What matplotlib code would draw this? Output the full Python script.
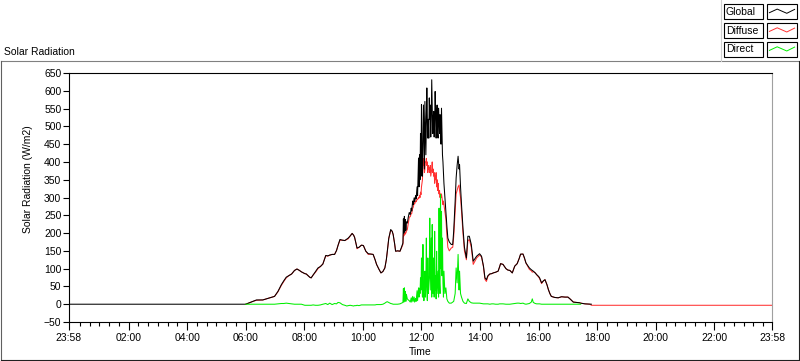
import numpy as np
import matplotlib
matplotlib.use("Agg")
import matplotlib.pyplot as plt
from matplotlib.patches import Rectangle
from matplotlib.lines import Line2D

plt.rcParams["font.family"] = ["Liberation Sans", "DejaVu Sans"]
plt.rcParams["font.size"] = 7.5

N = None

# time of day (HH:MM), readings in W/m2
times = [
    "00:00", "06:00", "06:15", "06:22", "06:35", "06:49", "06:59", "07:06", "07:13", "07:18",
    "07:23", "07:28", "07:34", "07:40", "07:45", "07:50", "07:54", "08:01", "08:04", "08:11",
    "08:14", "08:18", "08:23", "08:28", "08:33", "08:38", "08:44", "08:48", "08:52", "08:57",
    "09:02", "09:06", "09:09", "09:13", "09:18", "09:23", "09:27", "09:30", "09:34", "09:38",
    "09:41", "09:43", "09:46", "09:48", "09:52", "09:57", "10:01", "10:06", "10:11", "10:16",
    "10:21", "10:25", "10:28", "10:33", "10:37", "10:41", "10:45", "10:48", "10:50", "10:53",
    "10:57", "11:00", "11:02", "11:05", "11:07", "11:11", "11:16", "11:19", "11:22", "11:23",
    "11:24", "11:25", "11:26", "11:27", "11:28", "11:29", "11:31", "11:33", "11:35", "11:37",
    "11:39", "11:40", "11:42", "11:43", "11:45", "11:46", "11:48", "11:49", "11:51", "11:52",
    "11:54", "11:55", "11:56", "11:57", "11:58", "11:59", "12:00", "12:01", "12:02", "12:03",
    "12:04", "12:05", "12:06", "12:07", "12:08", "12:09", "12:10", "12:11", "12:12", "12:13",
    "12:14", "12:15", "12:16", "12:17", "12:18", "12:19", "12:20", "12:21", "12:22", "12:23",
    "12:24", "12:25", "12:26", "12:27", "12:28", "12:29", "12:30", "12:31", "12:32", "12:33",
    "12:34", "12:35", "12:36", "12:37", "12:38", "12:39", "12:40", "12:41", "12:42", "12:43",
    "12:44", "12:45", "12:46", "12:48", "12:50", "12:52", "12:54", "12:57", "13:01", "13:04",
    "13:06", "13:09", "13:11", "13:13", "13:15", "13:17", "13:18", "13:20", "13:22", "13:25",
    "13:28", "13:32", "13:35", "13:38", "13:42", "13:46", "13:53", "13:59", "14:03", "14:07",
    "14:10", "14:13", "14:16", "14:20", "14:24", "14:27", "14:32", "14:37", "14:40", "14:42",
    "14:47", "14:53", "14:57", "15:01", "15:06", "15:11", "15:16", "15:20", "15:23", "15:28",
    "15:31", "15:34", "15:38", "15:41", "15:45", "15:47", "15:49", "15:53", "15:56", "16:00",
    "16:02", "16:06", "16:10", "16:13", "16:17", "16:20", "16:23", "16:26", "16:33", "16:40",
    "16:47", "16:54", "17:00", "17:05", "17:11", "17:18", "17:24", "17:26", "17:35", "17:45",
    "17:48", "23:58",
]

global_rad = [
    0, 0, 8, 12, 12, 18, 22, 36, 55, 66,
    76, 80, 85, 95, 99, 95, 91, 86, 85, 76,
    74, 82, 92, 102, 106, 113, 137, 136, 138, 140,
    140, 151, 165, 182, 180, 179, 183, 186, 192, 199,
    194, 188, 170, 158, 160, 166, 165, 149, 142, 141,
    140, 125, 112, 98, 88, 92, 102, 125, 149, 185,
    210, 205, 196, 170, 149, 150, 149, 160, 172, 240,
    200, 247, 205, 238, 208, 232, 228, 245, 258, 252,
    270, 262, 290, 280, 299, 288, 305, 296, 330, 305,
    411, 330, 420, 350, 480, 360, 561, 420, 360, 467,
    560, 470, 380, 570, 500, 420, 520, 608, 520, 467,
    520, 467, 580, 520, 560, 470, 520, 631, 560, 480,
    520, 542, 470, 510, 598, 540, 467, 520, 560, 480,
    467, 551, 520, 480, 533, 500, 450, 551, 480, 420,
    400, 373, 340, 300, 261, 220, 186, 175, 168, 168,
    205, 290, 355, 390, 416, 380, 392, 330, 280, 214,
    160, 130, 191, 191, 168, 121, 135, 142, 135, 107,
    74, 69, 80, 85, 86, 88, 90, 93, 105, 114,
    112, 100, 96, 95, 88, 107, 114, 128, 141, 141,
    130, 116, 108, 102, 97, 95, 93, 88, 83, 78,
    74, 60, 66, 69, 55, 41, 30, 22, 19, 18,
    21, 20, 20, 14, 6, 5, 4, 3, 1, 0,
    0, N,
]

diffuse_rad = [
    N, 0, 8, 11, 12, 18, 22, 35, 53, 64,
    74, 80, 85, 95, 99, 95, 91, 86, 85, 76,
    74, 82, 90, 100, 106, 113, 137, 135, 138, 140,
    140, 151, 165, 180, 180, 179, 182, 184, 192, 199,
    194, 188, 170, 156, 160, 166, 165, 149, 140, 141,
    140, 125, 112, 98, 88, 92, 102, 125, 147, 185,
    208, 205, 196, 170, 149, 150, 149, 158, 168, 196,
    192, 200, 196, 202, 200, 205, 210, 228, 245, 246,
    255, 255, 270, 272, 285, 282, 290, 288, 295, 294,
    300, 298, 305, 300, 315, 308, 330, 340, 350, 400,
    390, 410, 370, 380, 400, 400, 410, 390, 400, 370,
    390, 380, 383, 370, 390, 360, 370, 380, 400, 370,
    380, 360, 370, 340, 360, 350, 370, 330, 350, 320,
    340, 320, 310, 320, 300, 310, 300, 310, 300, 290,
    280, 290, 280, 260, 240, 195, 160, 150, 158, 160,
    190, 260, 310, 320, 330, 335, 320, 300, 262, 200,
    150, 125, 178, 182, 160, 112, 130, 138, 133, 105,
    70, 64, 78, 85, 86, 88, 90, 93, 105, 114,
    112, 100, 96, 95, 88, 107, 114, 128, 140, 141,
    128, 116, 106, 98, 94, 90, 92, 88, 83, 76,
    72, 58, 66, 69, 55, 41, 30, 22, 19, 18,
    21, 20, 20, 14, 6, 5, 4, 3, 1, 0,
    -3, -3,
]

direct_rad = [
    N, 0, 0, 0, 0, 0, 0, 1, 2, 2,
    3, 2, 1, 0, 0, 0, 0, -3, -3, -3,
    -3, -2, -3, -3, -2, 0, 2, -1, 3, -1,
    2, 1, 5, 4, -1, -3, -5, -4, -3, -4,
    -5, -4, -4, -3, -4, -2, -2, -2, -2, -2,
    -2, -2, -1, -1, -1, 0, 3, 6, 7, 5,
    2, 1, 0, 0, 0, 0, 1, 3, 5, 44,
    6, 46, 10, 36, 8, 28, 15, 12, 10, 6,
    18, 6, 22, 8, 20, 6, 16, 8, 38, 10,
    46, 20, 45, 30, 74, 40, 130, 60, 20, 168,
    40, 10, 60, 93, 20, 60, 186, 40, 10, 130,
    30, 60, 80, 242, 40, 120, 186, 20, 224, 60,
    30, 130, 20, 205, 40, 80, 15, 149, 30, 60,
    93, 20, 270, 60, 30, 308, 100, 261, 80, 186,
    60, 20, 93, 30, 46, 15, 8, 3, 3, 6,
    8, 30, 102, 60, 140, 40, 93, 30, 20, 8,
    3, 2, 15, 8, 4, 3, 3, 3, 2, 1,
    1, 1, 1, 0, 1, 1, 0, 0, 1, 1,
    1, 0, 0, 0, 1, 2, 3, 3, 2, 3,
    1, 0, 1, 2, 6, 15, 5, 2, 1, 1,
    1, 0, 0, 0, 0, 0, 0, 0, 0, 0,
    0, 0, 0, 0, 0, 0, 0, 0, N, N,
    N, N,
]

series_names = ["Global", "Diffuse", "Direct"]
series_colors = ["#000000", "#ff3030", "#00ee00"]

xtick_hours = [-2 / 60, 2, 4, 6, 8, 10, 12, 14, 16, 18, 20, 22, 23 + 58 / 60]
xtick_labels = ["23:58", "02:00", "04:00", "06:00", "08:00", "10:00", "12:00",
                "14:00", "16:00", "18:00", "20:00", "22:00", "23:58"]
yticks = list(range(-50, 651, 50))


def to_hours(s):
    h, m = s.split(":")
    return int(h) + int(m) / 60


hours = np.array([to_hours(s) for s in times])
g = np.array(global_rad, dtype=float)
d = np.array(diffuse_rad, dtype=float)
r = np.array(direct_rad, dtype=float)

W, H = 800, 361
fig = plt.figure(figsize=(W / 100, H / 100), dpi=100)


def fx(px):
    return px / W


def fy(py):
    return 1 - py / H


# outer frame
fig.add_artist(Line2D([fx(0.5), fx(799)], [fy(61), fy(61)], color="#808080", lw=0.8))
fig.add_artist(Line2D([fx(0.5), fx(0.5)], [fy(61), fy(360)], color="#606060", lw=0.8))
fig.add_artist(Line2D([fx(0.5), fx(799)], [fy(360), fy(360)], color="#202020", lw=0.8))
fig.add_artist(Line2D([fx(799), fx(799)], [fy(61), fy(360)], color="#202020", lw=0.8))
fig.add_artist(Line2D([fx(721), fx(721)], [fy(0), fy(61)], color="#d0d0d0", lw=0.8))

fig.text(fx(4), fy(52), "Solar Radiation", ha="left", va="center", fontsize=7.5)

# legend boxes top right
row_tops = [4, 22.7, 41.7]
for name, col, top in zip(series_names, series_colors, row_tops):
    fig.add_artist(Rectangle((fx(724), fy(top + 15)), fx(39), 15 / H,
                             transform=fig.transFigure, fill=False, ec="black", lw=0.8))
    fig.text(fx(726), fy(top + 7.8), name, ha="left", va="center", fontsize=7.5)
    fig.add_artist(Rectangle((fx(767), fy(top + 15)), fx(30), 15 / H,
                             transform=fig.transFigure, fill=False, ec="black", lw=0.8))
    sx = [0.08, 0.34, 0.66, 0.92]
    sy = [0.42, 0.66, 0.38, 0.64]
    fig.add_artist(Line2D([fx(767 + 30 * a) for a in sx],
                          [fy(top + 15 - 15 * b) for b in sy], color=col, lw=0.7))

ax = fig.add_axes([fx(69), 39 / H, fx(703), 249 / H])
ax.plot(hours, d, color=series_colors[1], lw=0.75, zorder=2)
ax.plot(hours, g, color=series_colors[0], lw=0.75, zorder=3)
ax.plot(hours, r, color=series_colors[2], lw=0.75, zorder=4)

ax.set_xlim(-2 / 60, 23 + 58 / 60)
ax.set_ylim(-50, 650)
ax.set_yticks(yticks)
ax.set_xticks(xtick_hours)
ax.set_xticklabels(xtick_labels)
minor = [m / 60 for m in range(20, 1440, 20) if m % 120 != 0]
ax.set_xticks(minor, minor=True)

ax.tick_params(axis="y", direction="out", length=4, width=0.8, pad=1.5, labelsize=7.5)
ax.tick_params(axis="x", which="major", direction="out", length=6, width=0.8, pad=2, labelsize=7.5)
ax.tick_params(axis="x", which="minor", direction="out", length=3, width=0.8)

for side in ["left", "top", "bottom"]:
    ax.spines[side].set_color("black")
    ax.spines[side].set_linewidth(0.8)
ax.spines["right"].set_color("#a0a0a0")
ax.spines["right"].set_linewidth(0.8)

ax.set_ylabel("Solar Radiation (W/m2)", fontsize=7.5)
ax.yaxis.set_label_coords(-0.051, 0.574)
ax.set_xlabel("Time", fontsize=7.5, va="center")
ax.xaxis.set_label_coords(0.5, -0.12)

fig.savefig("out.png", dpi=100)
